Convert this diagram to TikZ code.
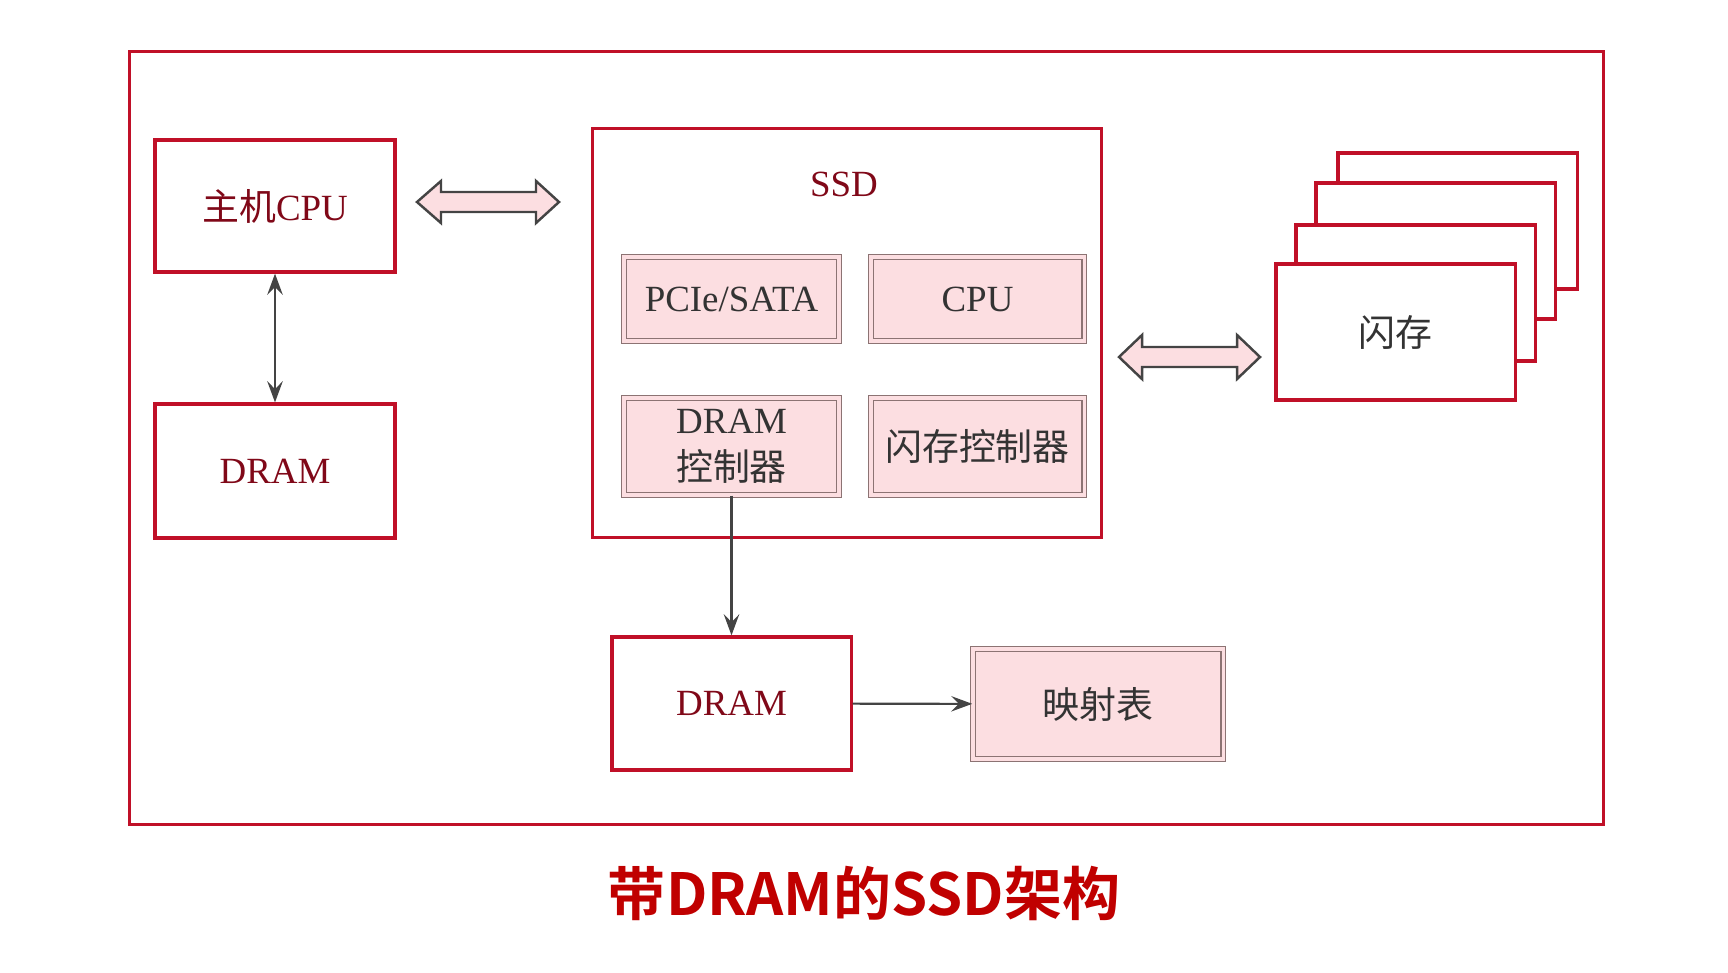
\documentclass[tikz,border=0pt]{standalone}
\usepackage{fontspec}
\setmainfont{Liberation Serif}
\newfontfamily\cjk{Noto Sans CJK SC}[BoldFont={Noto Sans CJK SC Bold}]
\usetikzlibrary{arrows.meta}
\definecolor{boxred}{RGB}{192,16,40}
\definecolor{textred}{RGB}{128,8,24}
\definecolor{pinkfill}{RGB}{252,222,225}
\definecolor{linegray}{RGB}{68,68,68}
\definecolor{titlered}{RGB}{192,0,0}

\begin{document}
\begin{tikzpicture}[x=0.01cm,y=-0.01cm]
    \tikzstyle{every node}=[font=\fontsize{10.5}{13.5}\selectfont, align=center]
    \tikzstyle{redbox}=[draw=boxred, line width=0.9pt, fill=white, text=textred, inner sep=0pt]
    \tikzstyle{pinkbox}=[draw=gray!90!red, line width=0.4pt, double=pinkfill, double distance=0.9pt, fill=pinkfill, text=black!80, inner sep=0pt]
    \tikzstyle{fatarrow}=[draw=linegray, line width=0.7pt, fill=pinkfill, line join=miter]
    \tikzstyle{link}=[draw=linegray, line width=0.6pt, >={Stealth[length=6pt,width=4.4pt,inset=2.2pt]}]
    \useasboundingbox (0,0) rectangle (1728,972);
      \node[draw=boxred, line width=0.75pt, minimum width=14.73cm, minimum height=7.72cm] (frame) at (866.5,438) {};
      \node[redbox, minimum width=2.40cm, minimum height=1.32cm] (host) at (275,206) {{\cjk 主机}CPU};
      \node[redbox, minimum width=2.40cm, minimum height=1.34cm] (hdram) at (275,471) {DRAM};
      \node[redbox, minimum width=5.08cm, minimum height=4.08cm] (ssd) at (847,333) {};
      \node[text=textred] (ssdlabel) at (844,184) {SSD};
      \node[pinkbox, minimum width=2.15cm, minimum height=0.84cm] (pcie) at (731.5,299) {PCIe/SATA};
      \node[pinkbox, minimum width=2.13cm, minimum height=0.84cm] (cpu) at (977.5,299) {CPU};
      \node[pinkbox, minimum width=2.15cm, minimum height=0.97cm] (dctrl) at (731.5,446.5) {DRAM\\{\cjk 控制器}};
      \node[pinkbox, minimum width=2.13cm, minimum height=0.97cm] (fctrl) at (977.5,446.5) {\cjk 闪存控制器};
      \node[redbox, minimum width=2.39cm, minimum height=1.33cm] (dram) at (731.5,703.5) {DRAM};
      \node[pinkbox, minimum width=2.50cm, minimum height=1.10cm] (maptab) at (1098,704) {\cjk 映射表};
      \foreach \dx/\dy in {62/-111, 40/-81, 20/-39}
        \node[redbox, minimum width=2.39cm, minimum height=1.36cm] at (1395.5+\dx,332+\dy) {};
      \node[redbox, text=black!80, minimum width=2.39cm, minimum height=1.36cm] (flash) at (1395.5,332) {\cjk 闪存};
      \draw[fatarrow] (417,202) -- (441,181) -- (441,192) -- (536,192) -- (536,181) -- (559,202)
        -- (536,223) -- (536,212) -- (441,212) -- (441,223) -- cycle;
      \draw[fatarrow] (1119,357) -- (1142,335) -- (1142,347) -- (1237,347) -- (1237,335) -- (1260,357)
        -- (1237,379) -- (1237,367) -- (1142,367) -- (1142,379) -- cycle;
      \draw[link, <->] (host) -- (hdram);
      \draw[link, ->] (dctrl) -- (dram);
      \draw[link, ->] (dram) -- (maptab);
      \node[font={\fontsize{16.5}{20}\selectfont\cjk\bfseries}, text=titlered] (title) at (864,893) {带DRAM的SSD架构};
\end{tikzpicture}
\end{document}
